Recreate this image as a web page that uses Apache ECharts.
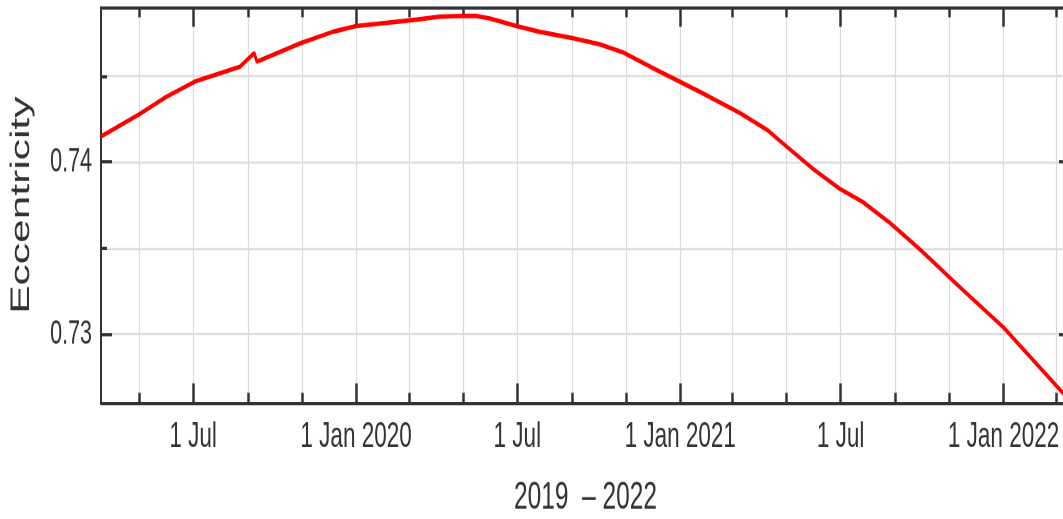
<!DOCTYPE html>
<html>
<head>
<meta charset="utf-8">
<script src="https://cdn.jsdelivr.net/npm/echarts@6/dist/echarts.min.js"></script>
<style>
  html, body { margin: 0; padding: 0; background: #fff; overflow: hidden; }
  #wrap { width: 1063px; height: 519px; overflow: hidden; position: relative; }
  /* the plot is drawn on a shorter canvas and stretched vertically;
     its right frame edge sits just past the visible area */
  #chart { width: 1070px; height: 324px; transform: scaleY(1.6019); transform-origin: 0 0; }
</style>
</head>
<body>
<div id="wrap"><div id="chart"></div></div>
<script>
// Orbit eccentricity, March 2019 – March 2022
const dates = [
  '2019-03-19', '2019-05-02', '2019-06-01', '2019-07-03', '2019-08-23',
  '2019-09-08', '2019-09-11', '2019-10-30', '2019-12-06', '2020-01-01',
  '2020-02-27', '2020-04-05', '2020-05-01', '2020-05-16', '2020-05-31',
  '2020-06-30', '2020-07-26', '2020-09-02', '2020-10-02', '2020-10-28',
  '2020-12-05', '2021-01-23', '2021-03-09', '2021-04-09', '2021-05-01',
  '2021-05-31', '2021-06-30', '2021-07-26', '2021-08-26', '2021-09-29',
  '2021-11-13', '2022-01-01', '2022-03-10'
];
const eccentricity = [
  0.74149, 0.74281, 0.74381, 0.74469, 0.74556,
  0.74635, 0.74585, 0.74692, 0.74759, 0.74792,
  0.74823, 0.74847, 0.74852, 0.74851, 0.74837,
  0.74792, 0.74759, 0.74721, 0.74686, 0.74640,
  0.74537, 0.74410, 0.74287, 0.74188, 0.74091,
  0.73960, 0.73845, 0.73768, 0.73645, 0.73490,
  0.73270, 0.73037, 0.72650
];

// x axis: labelled ticks every half year, small ticks every two months
const xMajorTicks = ['2019-07-01', '2020-01-01', '2020-07-01', '2021-01-01', '2021-07-01', '2022-01-01'];
const xTickLabels = ['1 Jul', '1 Jan 2020', '1 Jul', '1 Jan 2021', '1 Jul', '1 Jan 2022'];
const xMinorTicks = [
  '2019-05-01', '2019-07-01', '2019-09-01', '2019-11-01',
  '2020-01-01', '2020-03-01', '2020-05-01', '2020-07-01', '2020-09-01', '2020-11-01',
  '2021-01-01', '2021-03-01', '2021-05-01', '2021-07-01', '2021-09-01', '2021-11-01',
  '2022-01-01', '2022-03-01'
];
const xRange = ['2019-03-19', '2022-03-17'];

// y axis
const yMajorTicks = [0.73, 0.74];
const yTickLabels = ['0.73', '0.74'];
const yMinorTicks = [0.73, 0.735, 0.74, 0.745];
const yRange = [0.726, 0.749];

const xTitle = '2019  \u2013 2022';
const yTitle = 'Eccentricity';

function ts(s) {
  const p = s.split('-').map(Number);
  return new Date(p[0], p[1] - 1, p[2]).getTime();
}

const majorX = xMajorTicks.map(ts);
const minorX = xMinorTicks.map(ts);
const seriesData = dates.map((d, i) => [ts(d), eccentricity[i]]);

const FONT = '"Liberation Sans", Arial, sans-serif';
const INK = '#333';
const GRID_LINE = '#dcdcdc';

function xAxisDef(position, major, withLabels) {
  return {
    type: 'value',
    position: position,
    min: ts(xRange[0]),
    max: ts(xRange[1]),
    axisLine: { show: major, lineStyle: { color: INK, width: 2 } },
    axisTick: {
      show: true, inside: true,
      length: major ? 12 : 6,
      customValues: major ? majorX : minorX,
      lineStyle: { color: INK, width: 2.5 }
    },
    axisLabel: withLabels ? {
      show: true,
      customValues: majorX,
      formatter: function (v) {
        const i = majorX.indexOf(v);
        return i >= 0 ? xTickLabels[i] : '';
      },
      fontFamily: FONT, fontSize: 22.5, color: INK, margin: 10
    } : { show: false },
    splitLine: (!major && position === 'bottom')
      ? { show: true, lineStyle: { color: GRID_LINE, width: 1.2 } }
      : { show: false },
    name: withLabels ? xTitle : '',
    nameLocation: 'middle',
    nameGap: 47,
    nameTextStyle: { fontFamily: FONT, fontSize: 24.5, color: INK }
  };
}

function yAxisDef(position, major, withLabels) {
  return {
    type: 'value',
    position: position,
    min: yRange[0],
    max: yRange[1],
    axisLine: { show: major, lineStyle: { color: INK, width: 2 } },
    axisTick: {
      show: true, inside: true,
      length: major ? 11 : 6,
      customValues: major ? yMajorTicks : yMinorTicks,
      lineStyle: { color: INK, width: 2 }
    },
    axisLabel: withLabels ? {
      show: true,
      customValues: yMajorTicks,
      formatter: function (v) {
        const i = yMajorTicks.findIndex(t => Math.abs(t - v) < 1e-9);
        return i >= 0 ? yTickLabels[i] : '';
      },
      fontFamily: FONT, fontSize: 21.5, color: INK, margin: 9
    } : { show: false },
    splitLine: (!major && position === 'left')
      ? { show: true, lineStyle: { color: GRID_LINE, width: 1.2 } }
      : { show: false },
    name: withLabels ? yTitle : '',
    nameLocation: 'middle',
    nameGap: 66,
    nameTextStyle: { fontFamily: FONT, fontSize: 26.5, color: INK }
  };
}

const chart = echarts.init(document.getElementById('chart'), null, { renderer: 'canvas', devicePixelRatio: 2 });
chart.setOption({
  animation: false,
  backgroundColor: '#fff',
  grid: { left: 101, right: 0, top: 4.7, bottom: 72.7, containLabel: false, outerBoundsMode: 'none' },
  xAxis: [
    xAxisDef('bottom', false, false),
    xAxisDef('bottom', true, true),
    xAxisDef('top', false, false),
    xAxisDef('top', true, false)
  ],
  yAxis: [
    yAxisDef('left', false, false),
    yAxisDef('left', true, true),
    yAxisDef('right', false, false),
    yAxisDef('right', true, false)
  ],
  series: [{
    type: 'line',
    xAxisIndex: 1,
    yAxisIndex: 1,
    data: seriesData,
    showSymbol: false,
    smooth: false,
    lineStyle: { color: '#ff0000', width: 2.8 },
    z: 10
  }]
});
</script>
</body>
</html>
